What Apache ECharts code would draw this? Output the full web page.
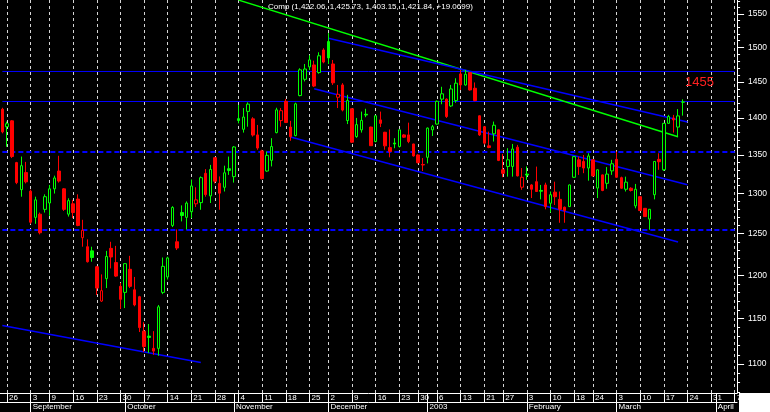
<!DOCTYPE html>
<html><head><meta charset="utf-8">
<script src="https://cdn.jsdelivr.net/npm/echarts@6.0.0/dist/echarts.min.js"></script>
<style>html,body{margin:0;padding:0;background:#000;}#c{width:770px;height:412px;}</style>
</head><body><div id="c"></div>
<script>
// ---- data ----
const dates = [
'2002-08-23','2002-08-26','2002-08-27','2002-08-28','2002-08-29','2002-08-30',
'2002-09-03','2002-09-04','2002-09-05','2002-09-06','2002-09-09','2002-09-10','2002-09-11','2002-09-12','2002-09-13',
'2002-09-16','2002-09-17','2002-09-18','2002-09-19','2002-09-20','2002-09-23','2002-09-24','2002-09-25','2002-09-26','2002-09-27',
'2002-09-30','2002-10-01','2002-10-02','2002-10-03','2002-10-04','2002-10-07','2002-10-08','2002-10-09','2002-10-10','2002-10-11',
'2002-10-14','2002-10-15','2002-10-16','2002-10-17','2002-10-18','2002-10-21','2002-10-22','2002-10-23','2002-10-24','2002-10-25',
'2002-10-28','2002-10-29','2002-10-30','2002-10-31','2002-11-01','2002-11-04','2002-11-05','2002-11-06','2002-11-07','2002-11-08',
'2002-11-11','2002-11-12','2002-11-13','2002-11-14','2002-11-15','2002-11-18','2002-11-19','2002-11-20','2002-11-21','2002-11-22',
'2002-11-25','2002-11-26','2002-11-27','2002-11-29','2002-12-02','2002-12-03','2002-12-04','2002-12-05','2002-12-06',
'2002-12-09','2002-12-10','2002-12-11','2002-12-12','2002-12-13','2002-12-16','2002-12-17','2002-12-18','2002-12-19','2002-12-20',
'2002-12-23','2002-12-24','2002-12-26','2002-12-27','2002-12-30','2002-12-31','2003-01-02','2003-01-03',
'2003-01-06','2003-01-07','2003-01-08','2003-01-09','2003-01-10','2003-01-13','2003-01-14','2003-01-15','2003-01-16','2003-01-17',
'2003-01-21','2003-01-22','2003-01-23','2003-01-24','2003-01-27','2003-01-28','2003-01-29','2003-01-30','2003-01-31',
'2003-02-03','2003-02-04','2003-02-05','2003-02-06','2003-02-07','2003-02-10','2003-02-11','2003-02-12','2003-02-13','2003-02-14',
'2003-02-18','2003-02-19','2003-02-20','2003-02-21','2003-02-24','2003-02-25','2003-02-26','2003-02-27','2003-02-28',
'2003-03-03','2003-03-04','2003-03-05','2003-03-06','2003-03-07','2003-03-10','2003-03-11','2003-03-12','2003-03-13','2003-03-14',
'2003-03-17','2003-03-18','2003-03-19','2003-03-20','2003-03-21','2003-03-24','2003-03-25','2003-03-26','2003-03-27','2003-03-28',
'2003-03-31','2003-04-01','2003-04-02','2003-04-03','2003-04-04','2003-04-07'
];
const open = [1412,1388,1396,1340,1305,1327,1303,1270,1274,1280,
1288,1306,1329,1306,1274,1287,1293,1245,1234,1229,
1210,1170,1196,1232,1215,1187,1180,1207,1183,1175,
1136,1130.5,1117,1117,1180,1198,1260,1240,1276,1270,
1277,1287,1288.5,1326,1297,1346.5,1313,1308,1332,1321.7,
1399,1384.5,1409,1398.7,1376.9,1355.5,1329,1343,1380,1396.4,
1423,1387.5,1376,1431,1454,1471.8,1474.6,1463.6,1496.4,1508.8,
1476,1428.6,1446,1396.4,1412.6,1374.6,1383.7,1405,1387.5,1368,
1397.3,1380.5,1359.9,1366,1361.3,1376.9,1376.9,1364.7,1350.1,1337.5,
1347,1383.7,1391.6,1426,1426,1416.5,1424,1461.7,1446,1463.6,
1441.3,1402.9,1388,1362.2,1378.4,1383.7,1330.6,1335,1335,1360.4,
1308.1,1325,1311,1315.2,1304,1311,1287.7,1301.8,1292.6,1282.7,
1283.5,1320.9,1343.7,1341.5,1332.9,1343.7,1307,1324,1313.1,1329.2,
1344.3,1320.4,1305.5,1306.8,1284.4,1296,1281.3,1267.9,1298.5,1344.3,
1330.6,1392.6,1399.8,1387.5,1422.06];
const high = [1414,1395,1397,1341,1348,1341,1305,1296,1276,1299,
1311,1323,1349,1307,1294,1292,1299,1267,1243,1234,
1211,1201,1229,1240,1235,1191,1214,1223,1198,1176,
1146,1144,1136,1165.5,1221,1222,1284,1255,1285,1290,
1318,1308,1322,1331.5,1337,1347,1322,1336,1348,1362,
1418,1413.6,1421.5,1401,1390.4,1357,1354.6,1372.5,1414,1413.6,
1426.4,1396,1421,1469.8,1476,1488.7,1480.8,1493,1499,1521.4,
1481.8,1446,1448.5,1432,1413,1400,1408.7,1412.6,1388,1403.5,
1408.7,1381,1384.3,1372.5,1384,1378,1393.5,1365,1351,1346,
1387,1390.4,1424,1443.4,1427,1446,1455.5,1467.5,1467.4,1464,
1449.5,1403.5,1388.5,1381.4,1395,1384,1351.5,1359.1,1364.7,1363.5,
1332.9,1335,1312,1334.8,1311,1313.9,1302.6,1315.2,1302.6,1283.5,
1311.5,1348.5,1347.9,1350.1,1352.3,1344,1331,1324.5,1334.2,1343.7,
1354.6,1321.7,1321.7,1308,1312.3,1296.5,1281.5,1280.5,1342,1352.3,
1393,1404.2,1404.2,1412.2,1425.73];
const low = [1379,1361,1346,1312,1296,1313,1262,1262,1249,1276,
1272,1300,1314,1278,1271,1269,1259,1234,1215,1216,
1177,1169,1185,1208,1198,1161,1162,1185,1164,1135,
1113,1112,1110,1109,1178,1195,1258,1230,1265,1255,
1269,1283,1279.5,1296,1288,1313,1279.5,1302.6,1324,1314,
1392.6,1380,1388,1374.6,1357,1318,1328,1335,1379,1388,
1393,1369,1375,1430,1451,1467.4,1443,1462,1477,1476,
1446,1413.6,1409,1391.6,1366,1373,1380,1401,1362,1367,
1387.5,1357,1347,1359,1360,1373,1365.8,1348,1339,1329,
1339,1375.5,1391,1418.9,1400,1415,1421,1438.9,1445,1438,
1423,1375.5,1364,1359,1368,1342,1321,1321.7,1321.7,1322,
1304.8,1317.6,1294.3,1302,1292.6,1280.1,1276,1285.5,1263.3,1263.3,
1283,1320,1324,1326.2,1316.5,1322,1294.3,1303,1306.1,1324,
1320,1306,1302.6,1302.6,1281.3,1278,1270.5,1254.7,1292.6,1330.6,
1329.2,1392,1380,1373.9,1403.15];
const close = [1381,1392,1348,1314,1336,1315,1264,1292,1251,1296,
1306,1320,1316,1280,1291,1276,1260,1254,1216,1221,
1185,1182,1222.3,1221.6,1199,1172,1213.7,1187,1165.6,1140,
1119,1129,1114,1163.4,1210.5,1220.5,1282.4,1232.4,1272.3,1287.9,
1309.7,1292,1320.4,1298.7,1331.1,1315.8,1300.5,1326.7,1329.8,1360.7,
1396.5,1401.2,1419,1376.7,1359.3,1319.2,1349.6,1361.3,1411.1,1410,
1393.7,1374.5,1419.4,1467.6,1468.7,1481.9,1444.4,1487.9,1478.8,1484.8,
1449,1432.8,1410.8,1424,1367.1,1390.8,1396.6,1404,1362.4,1402.9,
1392.6,1362.2,1354.6,1364.7,1383.7,1373.8,1368,1348.8,1339.9,1336.9,
1386.1,1388,1423,1433.5,1401.9,1440.3,1448.5,1446,1461.2,1438.9,
1424,1376.9,1365.8,1360,1390,1342.9,1326,1343.7,1358,1322.7,
1320.9,1323.8,1305.5,1302.6,1303,1283.5,1298.5,1296,1280.1,1278.5,
1311,1347.9,1334.8,1332.9,1348.8,1322.7,1330.6,1303.9,1325,1338.5,
1320.9,1306.8,1314.6,1303.9,1305.5,1278.5,1271,1280.1,1341.5,1341.2,
1392.6,1401.9,1397.3,1402.8,1421.84];

const yTickLabels = [1100,1150,1200,1250,1300,1350,1400,1450,1500,1550];
const yMinorTicks = [1070,1080,1090,1110,1120,1130,1140,1160,1170,1180,1190,1210,1220,1230,1240,
1260,1270,1280,1290,1310,1320,1330,1340,1360,1370,1380,1390,1410,1420,1430,1440,
1460,1470,1480,1490,1510,1520,1530,1540,1560,1570];
const yRange = [1069.2, 1571.5];
const monthLabels = ['September','October','November','December','2003','February','March','April'];
const solidLevels = [1465.2, 1422.7];
const dashedLevels = [1354.0, 1254.4];
const greenTrend = [['2002-11-04',1571.3],['2003-03-20',1374.3]];
const blueTrends = [
  [['2002-12-02',1513.6],['2003-03-24',1394.5]],
  [['2002-11-26',1440.7],['2003-03-24',1311.3]],
  [['2002-11-19',1374.1],['2003-03-20',1239.6]],
  [['2002-08-23',1142.4],['2002-10-23',1101.7]]
];
const titleText = 'Comp (1,422.06, 1,425.73, 1,403.15, 1,421.84, +19.0699)';
const targetText = '1455';

// ---- helpers ----
const L = Math.log;
const GREEN = '#00ff00', RED = '#ff0000', BLUE = '#0000ff';
const FONT = "'Liberation Sans', Arial, sans-serif";
const dow = d => new Date(d + 'T00:00:00Z').getUTCDay();
const dayMs = d => Date.parse(d + 'T00:00:00Z');
const isWeekStart = dates.map((d, i) => i > 0 && (dow(d) <= dow(dates[i-1]) || (dayMs(d) - dayMs(dates[i-1])) >= 7*86400000));
const isMonthStart = dates.map((d, i) => i > 0 && d.slice(5,7) !== dates[i-1].slice(5,7));
const monthLabelAt = {};
let k = 0;
dates.forEach((d, i) => { if (isMonthStart[i]) monthLabelAt[d] = monthLabels[k++]; });

const candleData = open.map((o, i) => {
  const c = close[i];
  const prev = i > 0 ? close[i-1] : o;
  const stroke = c >= prev ? GREEN : RED;
  const hollow = c > o;
  return {
    value: [L(o), L(c), L(low[i]), L(high[i])],
    itemStyle: { color: hollow ? '#000' : stroke, color0: stroke, borderColor: stroke, borderColor0: stroke, borderWidth: 1 }
  };
});

const lineSeries = (pts, color, w, type) => ({
  type: 'line', xAxisIndex: 0, yAxisIndex: 0, symbol: 'none', silent: true, clip: true,
  data: pts.map(p => [p[0], L(p[1])]),
  lineStyle: { color: color, width: w, type: type || 'solid' }, z: 3
});

const first = dates[0], last = dates[dates.length - 1];

const option = {
  backgroundColor: '#000',
  animation: false,
  title: [
    { text: titleText, left: 268, top: 3, padding: 0,
      textStyle: { color: '#fff', fontSize: 8, fontWeight: 'normal', fontFamily: FONT } },
    { text: targetText, left: 685, top: 76, padding: 0,
      textStyle: { color: '#ff2020', fontSize: 13, fontWeight: 'normal', fontFamily: FONT } }
  ],
  grid: { left: 0, right: 31, top: 0, bottom: 19 },
  xAxis: [
    {
      type: 'category', data: dates, boundaryGap: true, position: 'bottom',
      axisLine: { show: true, onZero: false, lineStyle: { color: '#fff', width: 1 } },
      axisTick: { show: true, alignWithLabel: true, length: 9,
        interval: (i) => isWeekStart[i] || isMonthStart[i], lineStyle: { color: '#fff' } },
      axisLabel: { show: true, interval: (i) => isWeekStart[i], align: 'left', margin: 1, padding: [0,0,0,2],
        color: '#fff', fontSize: 8, fontFamily: FONT, formatter: v => String(parseInt(v.slice(8), 10)) },
      splitLine: { show: true, alignWithLabel: true, interval: (i) => isWeekStart[i],
        lineStyle: { color: '#d4d4d4', width: 1, type: [3, 3] } }
    },
    {
      type: 'category', data: dates, boundaryGap: true, position: 'bottom', offset: 9,
      axisLine: { show: true, onZero: false, lineStyle: { color: '#fff', width: 1 } },
      axisTick: { show: true, alignWithLabel: true, length: 10,
        interval: (i) => isMonthStart[i], lineStyle: { color: '#fff' } },
      axisLabel: { show: true, interval: (i) => isMonthStart[i], align: 'left', margin: 1, padding: [0,0,0,2],
        color: '#fff', fontSize: 8, fontFamily: FONT, formatter: v => monthLabelAt[v] || '' },
      splitLine: { show: false }
    }
  ],
  yAxis: [
    {
      type: 'value', position: 'right', min: L(yRange[0]), max: L(yRange[1]), scale: true,
      axisLine: { show: true, lineStyle: { color: '#fff', width: 1 } },
      axisTick: { show: true, length: 7, customValues: yTickLabels.map(L), lineStyle: { color: '#fff' } },
      axisLabel: { show: true, customValues: yTickLabels.map(L), margin: 11, color: '#fff', fontSize: 8.5,
        fontFamily: FONT, formatter: v => String(Math.round(Math.exp(v))) },
      splitLine: { show: false }
    },
    {
      type: 'value', position: 'right', min: L(yRange[0]), max: L(yRange[1]), scale: true,
      axisLine: { show: false },
      axisTick: { show: true, length: 3, customValues: yMinorTicks.map(L), lineStyle: { color: '#fff' } },
      axisLabel: { show: false },
      splitLine: { show: false }
    }
  ],
  series: [
    ...solidLevels.map(v => lineSeries([[first, v], [last, v]], BLUE, 1)),
    ...dashedLevels.map(v => lineSeries([[first, v], [last, v]], BLUE, 2, [5, 3])),
    {
      type: 'candlestick', xAxisIndex: 0, yAxisIndex: 0, barWidth: 3, data: candleData, z: 4
    },
    lineSeries(greenTrend, GREEN, 1.5),
    ...blueTrends.map(t => lineSeries(t, BLUE, 1.5))
  ],
  graphic: [
    { type: 'rect', left: 739, top: 393, shape: { width: 31, height: 19 }, style: { fill: '#fff' }, z: 100 }
  ]
};

const chart = echarts.init(document.getElementById('c'), null, { renderer: 'canvas' });
chart.setOption(option);
</script>
</body></html>
